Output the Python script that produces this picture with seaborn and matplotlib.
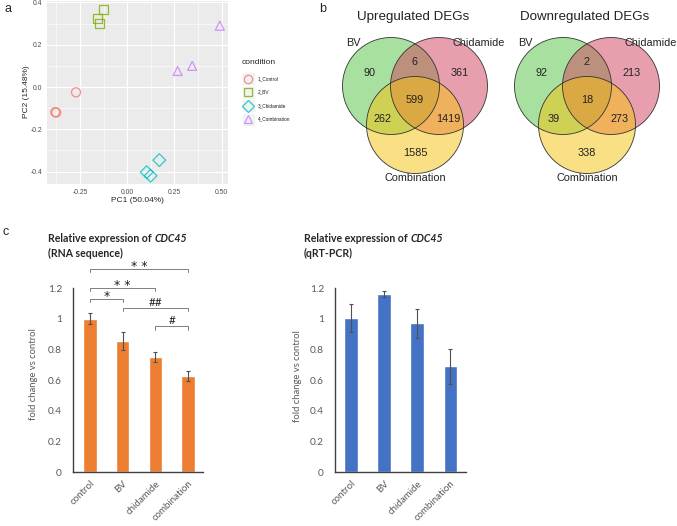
import numpy as np
import pandas as pd
import matplotlib
matplotlib.use("Agg")
import matplotlib.pyplot as plt
import seaborn as sns
from matplotlib.patches import Circle, Rectangle

# ---------------- data ----------------
cond_levels = ["1_Control", "2_BV", "3_Chidamide", "4_Combination"]
pca_condition = ["1_Control"] * 3 + ["2_BV"] * 3 + ["3_Chidamide"] * 3 + ["4_Combination"] * 3
pca_pc1 = [-0.381, -0.376, -0.271, -0.157, -0.148, -0.125, 0.103, 0.124, 0.170, 0.267, 0.344, 0.490]
pca_pc2 = [-0.119, -0.121, -0.025, 0.322, 0.302, 0.368, -0.403, -0.420, -0.346, 0.076, 0.100, 0.290]
pca_colors = ["#F8766D", "#7CAE00", "#00BFC4", "#C77CFF"]
pca_markers = ["o", "s", "D", "^"]

venn_sets = ["BV", "Chidamide", "Combination"]
venn_up = [90, 6, 361, 599, 262, 1419, 1585]     # BV, BV&Chi, Chi, all, BV&Comb, Chi&Comb, Comb
venn_down = [92, 2, 213, 18, 39, 273, 338]

groups = ["control", "BV", "chidamide", "combination"]
rnaseq_mean = [1.00, 0.855, 0.75, 0.625]
rnaseq_err = [0.038, 0.06, 0.03, 0.033]
qpcr_mean = [1.005, 1.16, 0.97, 0.69]
qpcr_err = [0.09, 0.02, 0.095, 0.115]

sig_pairs = [(0, 3), (0, 2), (0, 1), (1, 3), (2, 3)]
sig_labels = ["* *", "* *", "*", "##", "#"]
sig_heights = [1.325, 1.20, 1.13, 1.07, 0.95]

# ---------------- figure ----------------
W, H = 677, 526
sns.set_theme(style="white")
plt.rcParams['font.family'] = ['Liberation Sans', 'DejaVu Sans']
fig = plt.figure(figsize=(W / 100, H / 100), dpi=100)


def box(l, t, r, b):
    return [l / W, 1 - b / H, (r - l) / W, (b - t) / H]


# ---------- panel a: PCA ----------
ax_a = fig.add_axes(box(47, 1, 228, 184))
ax_a.set_facecolor("#EBEBEB")
pca_df = pd.DataFrame({"PC1": pca_pc1, "PC2": pca_pc2, "condition": pca_condition})
sns.scatterplot(data=pca_df, x="PC1", y="PC2", hue="condition", style="condition",
                hue_order=cond_levels, style_order=cond_levels,
                palette=dict(zip(cond_levels, pca_colors)),
                markers=dict(zip(cond_levels, pca_markers)),
                s=42, ax=ax_a, legend=False, zorder=3)
coll = ax_a.collections[0]
fc = coll.get_facecolors().copy()
fc[:, 3] = 0.8
coll.set_edgecolors(fc)
coll.set_facecolors("none")
coll.set_linewidth(0.9)
ax_a.set_xlim(-0.4246, 0.5336)
ax_a.set_ylim(-0.459, 0.407)
ax_a.set_xticks([-0.25, 0, 0.25, 0.5])
ax_a.set_xticklabels(["-0.25", "0.00", "0.25", "0.50"])
ax_a.set_yticks([-0.4, -0.2, 0, 0.2, 0.4])
ax_a.set_yticklabels(["-0.4", "-0.2", "0.0", "0.2", "0.4"])
ax_a.set_xticks([-0.375, -0.125, 0.125, 0.375], minor=True)
ax_a.set_yticks([-0.3, -0.1, 0.1, 0.3], minor=True)
ax_a.grid(which="major", color="white", lw=0.8)
ax_a.grid(which="minor", color="white", lw=0.4)
ax_a.set_axisbelow(True)
for s in ax_a.spines.values():
    s.set_visible(False)
ax_a.tick_params(which="major", length=2, width=0.5, color="#333333",
                 labelsize=4.9, labelcolor="#4D4D4D", pad=1.5)
ax_a.tick_params(which="minor", length=0)
ax_a.set_xlabel("")
ax_a.set_ylabel("")

# ---------- panel c: bar charts ----------
cfont = ['Lato', 'DejaVu Sans']


def bar_panel(rect, mean, err, color):
    ax = fig.add_axes(rect)
    df = pd.DataFrame({"group": groups, "fold": mean})
    sns.barplot(data=df, x="group", y="fold", color=color, width=0.4,
                saturation=1, ax=ax, errorbar=None)
    ax.errorbar(range(len(groups)), mean, yerr=err, fmt="none", ecolor="#505050",
                elinewidth=0.8, capsize=1.6, capthick=0.8, zorder=4)
    ax.set_ylim(0, 1.2)
    ax.set_yticks([0, 0.2, 0.4, 0.6, 0.8, 1.0, 1.2])
    ax.set_yticklabels(["0", "0.2", "0.4", "0.6", "0.8", "1", "1.2"],
                       family=cfont, fontsize=7.3, color="#595959")
    ax.set_xticks(range(len(groups)))
    ax.set_xticklabels(groups, rotation=45, ha="right", rotation_mode="anchor",
                       family=cfont, fontsize=7.0, color="#595959")
    ax.tick_params(axis="y", length=0, pad=8)
    ax.tick_params(axis="x", length=0, pad=5)
    ax.set_facecolor("none")
    for side in ["top", "right"]:
        ax.spines[side].set_visible(False)
    for side in ["left", "bottom"]:
        ax.spines[side].set_color("#404040")
        ax.spines[side].set_linewidth(1.0)
    ax.set_xlabel("")
    ax.set_ylabel("fold change vs control", family=cfont, fontsize=6.8, color="#595959")
    return ax


ax_c1 = bar_panel(box(73, 288, 203, 472), rnaseq_mean, rnaseq_err, "#ED7D31")
ax_c1.set_xlim(-0.52, 3.46)
ax_c1.yaxis.set_label_coords(-0.27, 0.53)
for (i, j), lab, h in zip(sig_pairs, sig_labels, sig_heights):
    ax_c1.plot([i, i, j, j], [h - 0.022, h, h, h - 0.022], color="#7F7F7F",
               lw=0.7, clip_on=False)
    if "*" in lab:
        ax_c1.text((i + j) / 2, h - 0.009, lab, ha="center", va="baseline",
                   family=["DejaVu Sans"], fontsize=9, clip_on=False, color="#222222")
    else:
        ax_c1.text((i + j) / 2, h + 0.012, lab, ha="center", va="baseline",
                   family=cfont, fontsize=8.5, clip_on=False, color="#222222")

ax_c2 = bar_panel(box(335, 288, 466, 472), qpcr_mean, qpcr_err, "#4472C4")
ax_c2.set_xlim(-0.485, 3.48)
ax_c2.yaxis.set_label_coords(-0.25, 0.52)

# ---------- overlay (pixel coordinates) ----------
ov = fig.add_axes([0, 0, 1, 1])
ov.set_xlim(0, W)
ov.set_ylim(H, 0)
ov.axis("off")
ov.set_zorder(-1)

# panel letters
ov.text(8, 9, "a", fontsize=9, ha="center", va="center")
ov.text(323, 9, "b", fontsize=9, ha="center", va="center")
ov.text(6, 232, "c", fontsize=9, ha="center", va="center")

# PCA axis labels and legend
ov.text(137.5, 201, "PC1 (50.04%)", fontsize=6, ha="center", va="center")
ov.text(26, 92, "PC2 (15.48%)", fontsize=6, ha="center", va="center", rotation=90)
ov.text(241.5, 63, "condition", fontsize=6, ha="left", va="center")
for k, lev in enumerate(cond_levels):
    yy = 78.7 + k * 13.5
    ov.add_patch(Rectangle((241.5, yy - 6.7), 13.4, 13.4, fc="#F2F2F2", ec="white", lw=0.5))
    ov.plot([248.2], [yy], marker=pca_markers[k], ms=6 if pca_markers[k] != "s" else 5.5,
            mfc="none", mec=pca_colors[k], mew=0.9, alpha=0.8)
    ov.text(258, yy, lev, fontsize=3.4, ha="left", va="center", color="#1A1A1A")

# Venn diagrams
venn_fill = ["#53C541", "#D3415D", "#F7C30B"]
circle_off = [(-24, -14), (24, -14), (0, 25)]
region_off = [(-45, -27), (0, -38), (45, -27), (0, 0), (-33, 19), (33, 19), (0, 53)]
name_off = [(-62, -57), (64, -57), (0, 78)]
for ox, title, counts in [(415, "Upregulated DEGs", venn_up), (587, "Downregulated DEGs", venn_down)]:
    oy = 100
    ov.text(ox - 2, 17, title, fontsize=9.6, ha="center", va="center", color="#222222")
    for (dx, dy), colr in zip(circle_off, venn_fill):
        ov.add_patch(Circle((ox + dx, oy + dy), 48.5, fc=colr, alpha=0.5, ec="none"))
    for (dx, dy) in circle_off:
        ov.add_patch(Circle((ox + dx, oy + dy), 48.5, fc="none", ec="#333333", lw=0.6))
    for (dx, dy), c in zip(region_off, counts):
        ov.text(ox + dx, oy + dy, str(c), fontsize=7.8, ha="center", va="center", color="#222222")
    for (dx, dy), nm in zip(name_off, venn_sets):
        ov.text(ox + dx, oy + dy, nm, fontsize=7.8, ha="center", va="center", color="#222222")

# bar chart titles (bold + bold italic gene name)
for x0, sub in [(48, "(RNA sequence)"), (304, "(qRT-PCR)")]:
    t1 = ov.text(x0, 239, "Relative expression of ", fontsize=7.6, fontweight="bold",
                 family=cfont, ha="left", va="center")
    ov.annotate("CDC45", xy=(1, 0), xycoords=t1, ha="left", va="bottom",
                fontsize=7.6, fontweight="bold", style="italic", family=cfont)
    ov.text(x0, 253, sub, fontsize=7.6, fontweight="bold", family=cfont,
            ha="left", va="center")

fig.savefig("out.png", dpi=100)
